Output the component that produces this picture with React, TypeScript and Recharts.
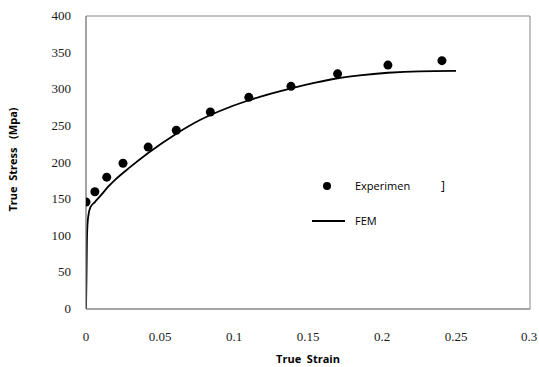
import React from 'react';
import { ComposedChart, Line, Scatter, XAxis, YAxis, ReferenceArea } from 'recharts';

const expStrain = [0, 0.006, 0.014, 0.025, 0.042, 0.061, 0.084, 0.11, 0.1385, 0.17, 0.204, 0.2405];
const expStress = [146, 160, 180, 199, 221, 244, 269, 289, 304, 321, 333, 339];

const femStrain = [0, 0.0003, 0.0006, 0.001, 0.0018, 0.003, 0.006, 0.01, 0.015, 0.02, 0.03, 0.042, 0.06, 0.077, 0.09, 0.11, 0.125, 0.14, 0.155, 0.17, 0.185, 0.204, 0.225, 0.25];
const femStress = [0, 40, 90, 115, 130, 139, 146, 155, 167, 177, 194, 213, 238, 258, 270, 285, 294, 302, 309, 315, 319, 322.5, 324.5, 325];

const xTicks = [0, 0.05, 0.1, 0.15, 0.2, 0.25, 0.3];
const yTicks = [0, 50, 100, 150, 200, 250, 300, 350, 400];

const expData = expStrain.map((x, i) => ({ x, y: expStress[i] }));
const femData = femStrain.map((x, i) => ({ x, y: femStress[i] }));

const SERIF = "'Liberation Serif', 'DejaVu Serif', serif";
const SANS = "'Open Sans', 'Noto Sans', sans-serif";

const SerifTick = (props: any) => {
  const { x, y, payload, textAnchor, orientation } = props;
  const dy = orientation === 'bottom' ? 10 : 4;
  return (
    <text x={x} y={y} dy={dy} textAnchor={textAnchor} fontFamily={SERIF} fontSize={13} fill="#1a1a1a">
      {payload.value}
    </text>
  );
};

const labelStyle = { fontFamily: SANS, fontSize: 11, fontWeight: 'bold', fill: '#000' };

export default function App() {
  return (
    <div style={{ position: 'absolute', left: 0, top: 0, width: 539, height: 367, background: '#fff' }}>
      <ComposedChart width={539} height={367} margin={{ top: 16, right: 9, bottom: 0, left: 0 }}>
        <XAxis
          type="number"
          dataKey="x"
          domain={[0, 0.3]}
          ticks={xTicks}
          tickLine={false}
          tickMargin={16}
          height={58}
          axisLine={{ stroke: '#868686' }}
          tick={<SerifTick orientation="bottom" />}
          allowDataOverflow
          label={{ value: 'True\u00a0\u00a0Strain', position: 'insideBottom', offset: 4, style: labelStyle }}
        />
        <YAxis
          type="number"
          dataKey="y"
          domain={[0, 400]}
          ticks={yTicks}
          tickLine={false}
          tickMargin={9}
          width={86}
          axisLine={{ stroke: '#868686' }}
          tick={<SerifTick orientation="left" />}
          label={{ value: 'True\u00a0\u00a0Stress\u00a0\u00a0\u00a0(Mpa)', angle: -90, position: 'center', dx: -30, dy: -3, style: labelStyle }}
        />
        <ReferenceArea x1={0} x2={0.3} y1={0} y2={400} fill="none" stroke="#868686" strokeWidth={1} />
        <Line data={femData} dataKey="y" type="monotone" stroke="#000" strokeWidth={1.8} dot={false} isAnimationActive={false} />
        <Scatter
          data={expData}
          dataKey="y"
          fill="#000"
          isAnimationActive={false}
          shape={(p: any) => <circle cx={p.cx} cy={p.cy} r={4.5} fill="#000" />}
        />
      </ComposedChart>
      <svg width={150} height={60} style={{ position: 'absolute', left: 312, top: 176 }}>
        <circle cx={15} cy={10} r={4} fill="#000" />
        <line x1={0} x2={33} y1={45} y2={45} stroke="#000" strokeWidth={1.8} />
        <text x={43} y={14} fontFamily={SANS} fontSize={11} fill="#000">Experimen</text>
        <text x={129} y={14} fontFamily={SANS} fontSize={12} fill="#000">]</text>
        <text x={43} y={49} fontFamily={SANS} fontSize={11} fill="#000">FEM</text>
      </svg>
    </div>
  );
}
